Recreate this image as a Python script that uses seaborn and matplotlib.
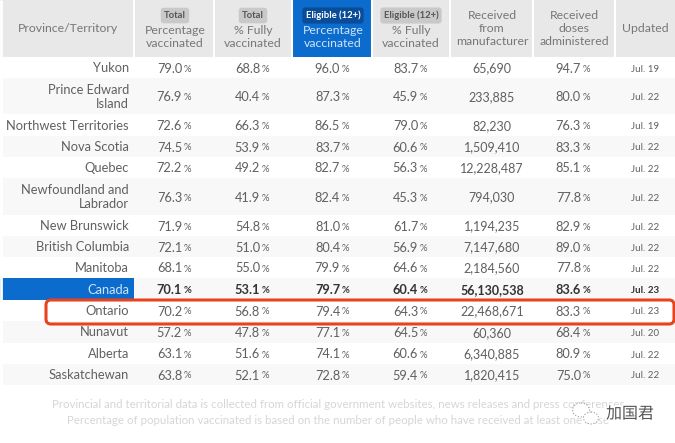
import numpy as np
import pandas as pd
import matplotlib.pyplot as plt
import matplotlib.patheffects as path_effects
import seaborn as sns
from matplotlib.colors import ListedColormap
from matplotlib.patches import Ellipse, FancyBboxPatch

"""
Vaccination table by province. Background cells are a heatmap of colour codes,
one matrix cell per pixel, repeated out of the row heights and column widths.
"""

class TableMaker:
    # Colour codes of the background heatmap
    WHITE, STRIPE, HEADER, BLUE = 0, 1, 2, 3
    COLORS = ['#ffffff', '#f8f8f8', '#e8e8e8', '#0b6ccd']
    FONT = 'Lato'
    TEXT_COLOR = '#606060'

    def __init__(self):
        self.rows = pd.DataFrame(
            [
                ["Yukon", 79.0, 68.8, 96.0, 83.7, "65,690", 94.7, "Jul. 19"],
                ["Prince Edward\nIsland", 76.9, 40.4, 87.3, 45.9, "233,885", 80.0, "Jul. 22"],
                ["Northwest Territories", 72.6, 66.3, 86.5, 79.0, "82,230", 76.3, "Jul. 19"],
                ["Nova Scotia", 74.5, 53.9, 83.7, 60.6, "1,509,410", 83.3, "Jul. 22"],
                ["Quebec", 72.2, 49.2, 82.7, 56.3, "12,228,487", 85.1, "Jul. 22"],
                ["Newfoundland and\nLabrador", 76.3, 41.9, 82.4, 45.3, "794,030", 77.8, "Jul. 22"],
                ["New Brunswick", 71.9, 54.8, 81.0, 61.7, "1,194,235", 82.9, "Jul. 22"],
                ["British Columbia", 72.1, 51.0, 80.4, 56.9, "7,147,680", 89.0, "Jul. 22"],
                ["Manitoba", 68.1, 55.0, 79.9, 64.6, "2,184,560", 77.8, "Jul. 22"],
                ["Canada", 70.1, 53.1, 79.7, 60.4, "56,130,538", 83.6, "Jul. 23"],
                ["Ontario", 70.2, 56.8, 79.4, 64.3, "22,468,671", 83.3, "Jul. 23"],
                ["Nunavut", 57.2, 47.8, 77.1, 64.5, "60,360", 68.4, "Jul. 20"],
                ["Alberta", 63.1, 51.6, 74.1, 60.6, "6,340,885", 80.9, "Jul. 22"],
                ["Saskatchewan", 63.8, 52.1, 72.8, 59.4, "1,820,415", 75.0, "Jul. 22"],
            ],
            columns=["province", "total_pct", "total_full", "eligible_pct", "eligible_full",
                     "received", "administered", "updated"],
        )
        self.header_height = 57
        self.row_heights = [21, 36, 22, 21, 21, 37, 21, 21, 21, 22, 21, 22, 21, 21]
        self.bottom_margin = 58
        self.column_widths = [134, 80, 78, 80, 78, 83, 82, 60]
        self.column_centers = [68, 175, 253, 333, 411, 492, 574, 645]

    def get_background(self):
        # 1 row for the header, then 1 per table row, then the empty bottom
        codes = np.zeros((len(self.rows) + 2, len(self.column_widths)), dtype=int)
        codes[0, :] = TableMaker.HEADER
        codes[0, 3] = TableMaker.BLUE
        codes[2::2, :] = TableMaker.STRIPE
        codes[-1, :] = TableMaker.WHITE
        codes[10, 0] = TableMaker.BLUE
        heights = [self.header_height] + self.row_heights + [self.bottom_margin]
        return np.repeat(np.repeat(codes, heights, axis=0), self.column_widths, axis=1)

    def draw_percent(self, ax, x, y, value, bold, color):
        weight = 'bold' if bold else 'normal'
        ax.text(x + 7, y, f"{value:.1f}", ha='right', va='center', fontsize=9.2,
                color=color, family=TableMaker.FONT, weight=weight)
        ax.text(x + 9, y + 0.5, "%", ha='left', va='center', fontsize=6.8,
                color=color, family=TableMaker.FONT, weight=weight)

    def draw_header(self, ax):
        headers = [
            (None, ["Province/Territory"]),
            ("Total", ["Percentage", "vaccinated"]),
            ("Total", ["% Fully", "vaccinated"]),
            ("Eligible (12+)", ["Percentage", "vaccinated"]),
            ("Eligible (12+)", ["% Fully", "vaccinated"]),
            (None, ["Received", "from", "manufacturer"]),
            (None, ["Received", "doses", "administered"]),
            (None, ["Updated"]),
        ]
        for i, (tag, lines) in enumerate(headers):
            x = self.column_centers[i]
            is_blue = i == 3
            color = '#cfe4fa' if is_blue else '#777777'
            if tag is not None:
                ax.text(x, 15.5, tag, ha='center', va='center', fontsize=6.8, weight='bold',
                        family=TableMaker.FONT, color='white' if is_blue else '#555555',
                        bbox=dict(boxstyle='round,pad=0.35', ec='none',
                                  fc='#0a4c98' if is_blue else '#c9c9c9'))
                y_start = 30.5
            elif len(lines) == 3:
                y_start = 15.5
            else:
                y_start = 28.5
            for line_number, line in enumerate(lines):
                ax.text(x, y_start + 13 * line_number, line, ha='center', va='center',
                        fontsize=8.8, color=color, family=TableMaker.FONT)

    def draw_rows(self, ax):
        y_top = self.header_height
        for (_, row), height in zip(self.rows.iterrows(), self.row_heights):
            y = y_top + height / 2 + 1
            is_canada = row["province"] == "Canada"
            color = '#333333' if is_canada else TableMaker.TEXT_COLOR
            weight = 'bold' if is_canada else 'normal'
            ax.text(129, y - 0.5, row["province"], ha='right', va='center', fontsize=9.3,
                    family=TableMaker.FONT, linespacing=1.2,
                    color='#cfe4fa' if is_canada else TableMaker.TEXT_COLOR)
            for column, i in [("total_pct", 1), ("total_full", 2), ("eligible_pct", 3),
                              ("eligible_full", 4), ("administered", 6)]:
                self.draw_percent(ax, self.column_centers[i], y, row[column], is_canada, color)
            ax.text(self.column_centers[5], y, row["received"], ha='center', va='center',
                    fontsize=9, color=color, family=TableMaker.FONT, weight=weight)
            ax.text(self.column_centers[7], y + 0.5, row["updated"], ha='center', va='center',
                    fontsize=7, color=color, family=TableMaker.FONT, weight=weight)
            y_top += height

    def draw_footer(self, ax):
        ax.text(338, 405, "Provincial and territorial data is collected from official government websites, news releases and press conferences",
                ha='center', va='center', fontsize=8.3, color='#d6d6d6', family=TableMaker.FONT)
        ax.text(338, 420, "Percentage of population vaccinated is based on the number of people who have received at least one dose",
                ha='center', va='center', fontsize=8.3, color='#d6d6d6', family=TableMaker.FONT)
        ax.add_patch(FancyBboxPatch((49, 303), 622, 18, boxstyle='round,pad=3,rounding_size=5',
                                    fc='none', ec='#e8431f', lw=2.2, zorder=5))
        # watermark
        ax.add_patch(Ellipse((581, 410), 17, 14, fc='white', ec='#9a9a9a', lw=0.8, ls=':', zorder=6))
        ax.add_patch(Ellipse((591, 418), 15, 12, fc='white', ec='#9a9a9a', lw=0.8, ls=':', zorder=6))
        ax.text(630, 414, "加国君", ha='center', va='center', fontsize=11.5,
                color='#555555', family='Noto Sans CJK SC', zorder=6,
                path_effects=[path_effects.withStroke(linewidth=2, foreground='white')])

    def make_table(self):
        _, ax = plt.subplots(figsize=(6.75, 4.43), dpi=100)
        plt.subplots_adjust(left=0, right=1, top=1, bottom=0)
        sns.heatmap(self.get_background(), ax=ax, cmap=ListedColormap(TableMaker.COLORS),
                    vmin=0, vmax=3, cbar=False, xticklabels=False, yticklabels=False)
        edges = np.cumsum(self.column_widths)[:-1]
        ax.vlines(edges, 0, self.header_height, color='white', linewidth=1.5)
        ax.vlines(1, 0, 443, color='white', linewidth=2)
        self.draw_header(ax)
        self.draw_rows(ax)
        self.draw_footer(ax)
        plt.savefig("out.png", dpi=100)


if __name__ == "__main__":
    table_maker = TableMaker()
    table_maker.make_table()
